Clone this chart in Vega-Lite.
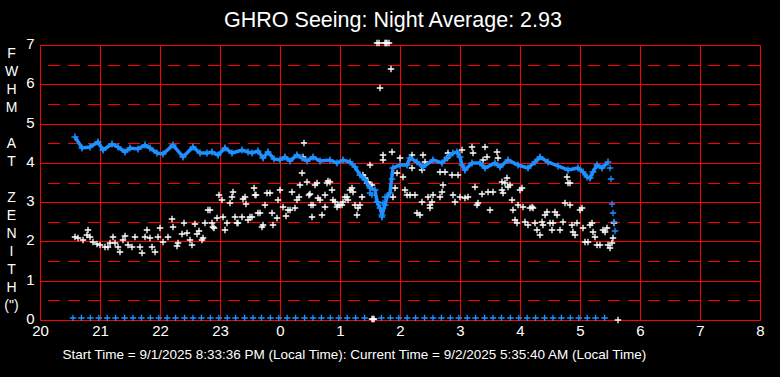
{
  "$schema": "https://vega.github.io/schema/vega-lite/v6.json",
  "width": 720,
  "height": 275,
  "autosize": {"type": "none"},
  "padding": {"left": 40, "top": 45, "right": 20, "bottom": 57},
  "background": "black",
  "title": {"text": "GHRO Seeing: Night Average: 2.93", "color": "white", "fontSize": 21.5, "font": "Liberation Sans", "fontWeight": "normal", "anchor": "middle", "offset": 5, "dx": -7},
  "config": {
    "view": {"stroke": null},
    "axis": {"domainColor": "#ff0000", "gridColor": "#ff0000", "gridOpacity": 1, "gridWidth": 1, "ticks": false, "labelColor": "white", "labelFont": "Liberation Sans", "labelFontSize": 15, "titleColor": "white", "titleFont": "Liberation Sans", "titleFontWeight": "normal", "labelFlush": false, "labelOverlap": false}
  },
  "datasets": {
    "half": [{"v":0.5},{"v":1.5},{"v":2.5},{"v":3.5},{"v":4.5},{"v":5.5},{"v":6.5}],
    "seeing": [
      {"h":20.583,"v":2.11},{"h":20.633,"v":2.09},{"h":20.717,"v":2.04},{"h":20.783,"v":2.16},{"h":20.8,"v":2.29},{"h":20.833,"v":2.11},{"h":20.883,"v":1.99},{"h":20.95,"v":1.94},{"h":21.0,"v":1.91},{"h":21.083,"v":1.86},{"h":21.133,"v":1.86},{"h":21.167,"v":1.96},{"h":21.217,"v":2.11},{"h":21.25,"v":1.96},{"h":21.3,"v":1.86},{"h":21.333,"v":1.73},{"h":21.383,"v":2.04},{"h":21.417,"v":2.14},{"h":21.467,"v":1.91},{"h":21.533,"v":1.86},{"h":21.583,"v":2.11},{"h":21.667,"v":1.86},{"h":21.7,"v":1.71},{"h":21.75,"v":2.11},{"h":21.783,"v":2.29},{"h":21.833,"v":2.09},{"h":21.867,"v":1.86},{"h":21.917,"v":1.73},{"h":21.967,"v":2.11},{"h":22.0,"v":2.34},{"h":22.05,"v":1.99},{"h":22.133,"v":2.11},{"h":22.2,"v":2.57},{"h":22.217,"v":2.37},{"h":22.283,"v":1.88},{"h":22.3,"v":1.96},{"h":22.367,"v":2.19},{"h":22.4,"v":2.47},{"h":22.45,"v":2.21},{"h":22.5,"v":2.04},{"h":22.533,"v":1.91},{"h":22.583,"v":2.44},{"h":22.617,"v":2.19},{"h":22.65,"v":2.27},{"h":22.7,"v":2.04},{"h":22.717,"v":2.09},{"h":22.75,"v":2.47},{"h":22.8,"v":2.8},{"h":22.833,"v":2.8},{"h":22.867,"v":2.47},{"h":22.883,"v":2.37},{"h":22.9,"v":2.34},{"h":22.95,"v":2.6},{"h":22.983,"v":3.18},{"h":23.033,"v":3.05},{"h":23.05,"v":2.62},{"h":23.083,"v":2.29},{"h":23.117,"v":2.47},{"h":23.167,"v":2.98},{"h":23.2,"v":3.13},{"h":23.217,"v":3.26},{"h":23.25,"v":2.62},{"h":23.283,"v":2.47},{"h":23.3,"v":2.47},{"h":23.367,"v":2.62},{"h":23.383,"v":3.08},{"h":23.417,"v":3.13},{"h":23.433,"v":2.95},{"h":23.467,"v":2.54},{"h":23.5,"v":2.62},{"h":23.533,"v":2.62},{"h":23.567,"v":3.36},{"h":23.583,"v":3.18},{"h":23.6,"v":3.18},{"h":23.633,"v":2.72},{"h":23.667,"v":2.72},{"h":23.7,"v":2.37},{"h":23.717,"v":2.42},{"h":23.75,"v":2.93},{"h":23.783,"v":3.23},{"h":23.833,"v":3.23},{"h":23.867,"v":2.72},{"h":23.883,"v":2.42},{"h":23.95,"v":2.6},{"h":23.967,"v":3.05},{"h":24.0,"v":3.31},{"h":24.05,"v":2.88},{"h":24.1,"v":2.65},{"h":24.133,"v":2.8},{"h":24.167,"v":2.8},{"h":24.2,"v":3.26},{"h":24.25,"v":2.85},{"h":24.283,"v":3.05},{"h":24.317,"v":3.13},{"h":24.333,"v":3.44},{"h":24.367,"v":3.74},{"h":24.383,"v":4.15},{"h":24.4,"v":4.5},{"h":24.45,"v":3.51},{"h":24.483,"v":3.18},{"h":24.5,"v":3.21},{"h":24.517,"v":2.93},{"h":24.533,"v":2.62},{"h":24.55,"v":2.93},{"h":24.583,"v":3.44},{"h":24.617,"v":3.49},{"h":24.633,"v":3.1},{"h":24.667,"v":3.05},{"h":24.7,"v":2.67},{"h":24.75,"v":3.18},{"h":24.75,"v":2.88},{"h":24.783,"v":3.49},{"h":24.8,"v":3.54},{"h":24.833,"v":3.51},{"h":24.867,"v":3.31},{"h":24.883,"v":3.05},{"h":24.917,"v":3.0},{"h":24.95,"v":2.88},{"h":24.967,"v":2.93},{"h":25.0,"v":2.93},{"h":25.033,"v":2.93},{"h":25.05,"v":3.0},{"h":25.083,"v":3.13},{"h":25.117,"v":3.13},{"h":25.133,"v":3.05},{"h":25.167,"v":3.31},{"h":25.2,"v":3.36},{"h":25.217,"v":3.26},{"h":25.25,"v":2.93},{"h":25.283,"v":2.67},{"h":25.3,"v":2.85},{"h":25.333,"v":2.93},{"h":25.367,"v":3.13},{"h":25.383,"v":3.69},{"h":25.417,"v":3.61},{"h":25.45,"v":3.49},{"h":25.467,"v":3.51},{"h":25.5,"v":3.44},{"h":25.5,"v":3.95},{"h":25.533,"v":3.44},{"h":25.717,"v":4.2},{"h":25.717,"v":4.07},{"h":25.867,"v":4.28},{"h":25.883,"v":3.13},{"h":25.917,"v":3.36},{"h":25.95,"v":3.74},{"h":26.0,"v":4.12},{"h":26.05,"v":3.64},{"h":26.083,"v":3.31},{"h":26.117,"v":3.18},{"h":26.167,"v":3.18},{"h":26.25,"v":3.18},{"h":26.2,"v":3.87},{"h":26.2,"v":4.2},{"h":26.283,"v":2.72},{"h":26.333,"v":2.67},{"h":26.367,"v":3.0},{"h":26.383,"v":4.2},{"h":26.417,"v":4.02},{"h":26.367,"v":3.82},{"h":26.467,"v":3.13},{"h":26.5,"v":2.93},{"h":26.533,"v":3.0},{"h":26.55,"v":3.18},{"h":26.5,"v":2.85},{"h":26.667,"v":3.13},{"h":26.7,"v":3.26},{"h":26.717,"v":3.44},{"h":26.667,"v":3.77},{"h":26.75,"v":3.77},{"h":26.8,"v":4.25},{"h":26.783,"v":4.12},{"h":26.867,"v":3.69},{"h":26.883,"v":3.18},{"h":26.917,"v":3.0},{"h":26.967,"v":3.69},{"h":27.0,"v":3.13},{"h":27.083,"v":3.1},{"h":27.133,"v":3.13},{"h":27.033,"v":4.33},{"h":27.2,"v":4.4},{"h":27.217,"v":4.25},{"h":27.25,"v":3.38},{"h":27.367,"v":3.21},{"h":27.283,"v":2.93},{"h":27.3,"v":2.98},{"h":27.417,"v":4.4},{"h":27.383,"v":4.07},{"h":27.45,"v":4.15},{"h":27.617,"v":4.28},{"h":27.633,"v":4.12},{"h":27.467,"v":3.26},{"h":27.55,"v":3.26},{"h":27.5,"v":2.8},{"h":27.7,"v":3.51},{"h":27.783,"v":3.61},{"h":27.75,"v":3.49},{"h":27.8,"v":3.38},{"h":27.833,"v":3.44},{"h":27.7,"v":3.31},{"h":27.717,"v":3.23},{"h":28.0,"v":3.31},{"h":28.033,"v":3.36},{"h":27.867,"v":3.05},{"h":27.883,"v":2.8},{"h":27.917,"v":2.54},{"h":27.95,"v":2.47},{"h":27.967,"v":2.93},{"h":28.05,"v":2.88},{"h":28.167,"v":2.85},{"h":28.2,"v":2.88},{"h":28.217,"v":2.85},{"h":28.083,"v":2.49},{"h":28.133,"v":2.42},{"h":28.25,"v":2.47},{"h":28.283,"v":2.29},{"h":28.333,"v":2.16},{"h":28.367,"v":2.49},{"h":28.383,"v":2.42},{"h":28.417,"v":2.67},{"h":28.45,"v":2.75},{"h":28.5,"v":2.47},{"h":28.533,"v":2.29},{"h":28.55,"v":2.47},{"h":28.583,"v":2.75},{"h":28.617,"v":2.67},{"h":28.667,"v":2.29},{"h":28.717,"v":2.49},{"h":28.75,"v":2.98},{"h":28.833,"v":2.93},{"h":28.867,"v":2.42},{"h":28.883,"v":2.24},{"h":28.917,"v":2.16},{"h":28.95,"v":2.47},{"h":29.0,"v":2.8},{"h":29.033,"v":2.85},{"h":29.05,"v":2.34},{"h":29.083,"v":1.99},{"h":29.133,"v":1.99},{"h":29.167,"v":2.42},{"h":29.2,"v":2.47},{"h":29.217,"v":2.24},{"h":29.25,"v":2.11},{"h":29.283,"v":1.91},{"h":29.333,"v":1.91},{"h":29.383,"v":2.29},{"h":29.417,"v":2.24},{"h":29.45,"v":2.34},{"h":29.467,"v":1.91},{"h":29.5,"v":1.83},{"h":29.533,"v":1.96},{"h":29.55,"v":2.09},{"h":29.567,"v":2.47},{"h":28.783,"v":3.64},{"h":28.8,"v":3.49},{"h":28.833,"v":3.49},
      {"h":25.617,"v":7.05},{"h":25.65,"v":7.05},{"h":25.75,"v":7.05},{"h":25.767,"v":7.05},{"h":25.783,"v":7.05},{"h":25.817,"v":7.05},{"h":25.85,"v":6.39},{"h":25.667,"v":5.9},
      {"h":29.633,"v":0},{"h":25.533,"v":0.03},{"h":25.55,"v":0.03},{"h":25.567,"v":0.03}
    ],
    "avg": [
      {"h":20.583,"v":4.66},{"h":20.7,"v":4.38},{"h":20.833,"v":4.4},{"h":20.967,"v":4.53},{"h":21.05,"v":4.33},{"h":21.2,"v":4.48},{"h":21.3,"v":4.4},{"h":21.417,"v":4.28},{"h":21.5,"v":4.38},{"h":21.633,"v":4.35},{"h":21.75,"v":4.45},{"h":21.833,"v":4.38},{"h":21.95,"v":4.25},{"h":22.05,"v":4.23},{"h":22.217,"v":4.45},{"h":22.383,"v":4.15},{"h":22.55,"v":4.4},{"h":22.667,"v":4.25},{"h":22.783,"v":4.25},{"h":22.867,"v":4.28},{"h":22.967,"v":4.2},{"h":23.083,"v":4.38},{"h":23.2,"v":4.25},{"h":23.367,"v":4.33},{"h":23.467,"v":4.28},{"h":23.533,"v":4.25},{"h":23.633,"v":4.3},{"h":23.717,"v":4.12},{"h":23.8,"v":4.28},{"h":23.9,"v":4.1},{"h":24.0,"v":4.07},{"h":24.083,"v":4.15},{"h":24.167,"v":4.05},{"h":24.283,"v":4.2},{"h":24.367,"v":4.12},{"h":24.45,"v":4.05},{"h":24.55,"v":4.15},{"h":24.667,"v":4.05},{"h":24.833,"v":4.07},{"h":24.95,"v":4.0},{"h":25.05,"v":4.07},{"h":25.167,"v":4.02},{"h":25.25,"v":3.9},{"h":25.333,"v":3.69},{"h":25.417,"v":3.56},{"h":25.5,"v":3.36},{"h":25.583,"v":3.31},{"h":25.617,"v":3.0},{"h":25.667,"v":2.85},{"h":25.7,"v":2.68},{"h":25.75,"v":2.93},{"h":25.783,"v":3.13},{"h":25.833,"v":3.23},{"h":25.883,"v":3.87},{"h":26.0,"v":3.95},{"h":26.117,"v":3.95},{"h":26.167,"v":4.12},{"h":26.283,"v":4.02},{"h":26.383,"v":3.9},{"h":26.55,"v":4.07},{"h":26.7,"v":4.0},{"h":26.8,"v":4.15},{"h":26.883,"v":4.25},{"h":26.95,"v":4.28},{"h":27.0,"v":4.15},{"h":27.033,"v":3.95},{"h":27.083,"v":3.82},{"h":27.2,"v":4.0},{"h":27.333,"v":4.0},{"h":27.417,"v":3.87},{"h":27.583,"v":4.0},{"h":27.667,"v":3.9},{"h":27.8,"v":4.07},{"h":27.967,"v":3.95},{"h":28.133,"v":3.87},{"h":28.25,"v":4.02},{"h":28.333,"v":4.15},{"h":28.467,"v":4.02},{"h":28.633,"v":3.92},{"h":28.8,"v":3.82},{"h":28.967,"v":3.87},{"h":29.05,"v":3.77},{"h":29.117,"v":3.64},{"h":29.167,"v":3.62},{"h":29.217,"v":3.77},{"h":29.283,"v":3.95},{"h":29.367,"v":3.87},{"h":29.467,"v":4.02}
    ],
    "blue": [
      {"h":25.867,"v":3.59},{"h":25.5,"v":3.23},{"h":25.533,"v":3.18},{"h":25.633,"v":3.0},{"h":25.717,"v":2.98},{"h":25.75,"v":3.13},{"h":25.7,"v":2.62},{"h":29.5,"v":3.87},{"h":29.517,"v":3.59},{"h":29.533,"v":2.95},{"h":29.55,"v":2.72},{"h":29.567,"v":2.49},{"h":29.583,"v":2.26},
      {"h":20.55,"v":0.04},{"h":20.69,"v":0.04},{"h":20.84,"v":0.04},{"h":20.98,"v":0.04},{"h":21.12,"v":0.04},{"h":21.26,"v":0.04},{"h":21.41,"v":0.04},{"h":21.55,"v":0.04},{"h":21.69,"v":0.04},{"h":21.84,"v":0.04},{"h":21.98,"v":0.04},{"h":22.12,"v":0.04},{"h":22.26,"v":0.04},{"h":22.41,"v":0.04},{"h":22.55,"v":0.04},{"h":22.69,"v":0.04},{"h":22.84,"v":0.04},{"h":22.98,"v":0.04},{"h":23.12,"v":0.04},{"h":23.26,"v":0.04},{"h":23.41,"v":0.04},{"h":23.55,"v":0.04},{"h":23.69,"v":0.04},{"h":23.84,"v":0.04},{"h":23.98,"v":0.04},{"h":24.12,"v":0.04},{"h":24.26,"v":0.04},{"h":24.41,"v":0.04},{"h":24.55,"v":0.04},{"h":24.69,"v":0.04},{"h":24.84,"v":0.04},{"h":24.98,"v":0.04},{"h":25.12,"v":0.04},{"h":25.26,"v":0.04},{"h":25.41,"v":0.04},{"h":25.69,"v":0.04},{"h":25.84,"v":0.04},{"h":25.98,"v":0.04},{"h":26.12,"v":0.04},{"h":26.26,"v":0.04},{"h":26.41,"v":0.04},{"h":26.55,"v":0.04},{"h":26.69,"v":0.04},{"h":26.84,"v":0.04},{"h":26.98,"v":0.04},{"h":27.12,"v":0.04},{"h":27.26,"v":0.04},{"h":27.41,"v":0.04},{"h":27.55,"v":0.04},{"h":27.69,"v":0.04},{"h":27.84,"v":0.04},{"h":27.98,"v":0.04},{"h":28.12,"v":0.04},{"h":28.26,"v":0.04},{"h":28.41,"v":0.04},{"h":28.55,"v":0.04},{"h":28.69,"v":0.04},{"h":28.84,"v":0.04},{"h":28.98,"v":0.04},{"h":29.12,"v":0.04},{"h":29.26,"v":0.04},{"h":29.41,"v":0.04}
    ]
  },
  "layer": [
    {
      "data": {"name": "half"},
      "mark": {"type": "rule", "color": "#ff0000", "strokeWidth": 1, "strokeDash": [12, 8], "yOffset": 0.5},
      "encoding": {
        "y": {"field": "v", "type": "quantitative", "scale": {"domain": [0, 7], "nice": false, "round": true},
          "axis": {"values": [0,1,2,3,4,5,6,7], "tickCount": 8, "labelPadding": 6, "labelOffset": -2, "labelBaseline": "middle", "grid": true, "gridColor": "#ff0000", "gridOpacity": 1, "gridDash": [],
            "title": ["F","W","H","M","\u200b","A","T","\u200b","Z","E","N","I","T","H","(\")"],
            "titleAngle": 0, "titleFontSize": 14, "titleLineHeight": 18, "titleX": -29, "titleY": 8, "titleAlign": "center", "titleBaseline": "middle"}}
      }
    },
    {
      "data": {"name": "seeing"},
      "mark": {"type": "point", "shape": "M-1,0H1M0,-1V1", "filled": false, "stroke": "white", "strokeWidth": 1.3, "size": 42, "opacity": 1},
      "encoding": {
        "x": {"field": "h", "type": "quantitative", "scale": {"domain": [20, 32], "nice": false, "zero": false},
          "axis": {"values": [20,21,22,23,24,25,26,27,28,29,30,31,32], "labelExpr": "'' + (datum.value % 24)", "labelPadding": 3, "grid": true, "gridColor": "#ff0000",
            "title": "Start Time = 9/1/2025 8:33:36 PM (Local Time): Current Time = 9/2/2025 5:35:40 AM (Local Time)",
            "titleFontSize": 13.5, "titleX": 22, "titleY": 34, "titleAlign": "left", "titleBaseline": "middle", "titleAnchor": "start"}},
        "y": {"field": "v", "type": "quantitative"}
      }
    },
    {
      "data": {"name": "avg"},
      "mark": {"type": "line", "color": "#1e90ff", "strokeWidth": 3.5},
      "encoding": {"x": {"field": "h", "type": "quantitative"}, "y": {"field": "v", "type": "quantitative"}}
    },
    {
      "data": {"name": "avg"},
      "mark": {"type": "point", "shape": "M-1,0H1M0,-1V1", "filled": false, "stroke": "#1e90ff", "strokeWidth": 1.5, "size": 49, "opacity": 1},
      "encoding": {"x": {"field": "h", "type": "quantitative"}, "y": {"field": "v", "type": "quantitative"}}
    },
    {
      "data": {"name": "blue"},
      "mark": {"type": "point", "shape": "M-1,0H1M0,-1V1", "filled": false, "stroke": "#1e90ff", "strokeWidth": 1.3, "size": 42, "opacity": 1},
      "encoding": {"x": {"field": "h", "type": "quantitative"}, "y": {"field": "v", "type": "quantitative"}}
    }
  ]
}
